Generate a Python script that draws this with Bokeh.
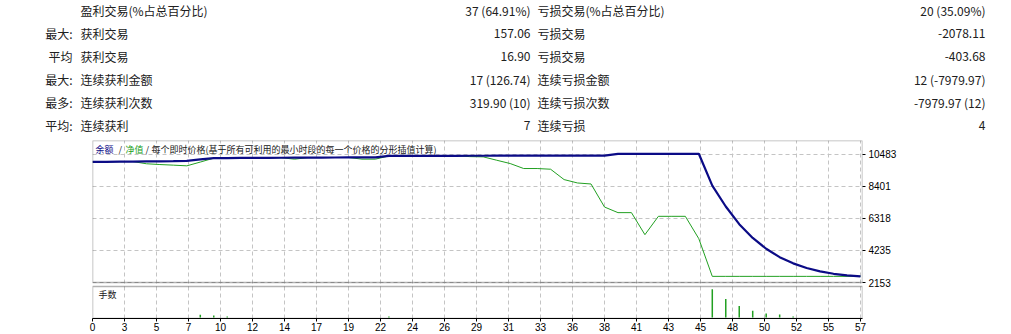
from bokeh.plotting import figure
from bokeh.models import Range1d, FixedTicker, BoxAnnotation, Label
from bokeh.embed import file_html
from bokeh.resources import INLINE
from bokeh.core.properties import value

# ---------------- data ----------------
row_prefix = ["", "最大:", "平均", "最大:", "最多:", "平均:"]
win_labels = ["盈利交易(%占总百分比)", "获利交易", "获利交易", "连续获利金额", "连续获利次数", "连续获利"]
win_values = ["37 (64.91%)", "157.06", "16.90", "17 (126.74)", "319.90 (10)", "7"]
loss_labels = ["亏损交易(%占总百分比)", "亏损交易", "亏损交易", "连续亏损金额", "连续亏损次数", "连续亏损"]
loss_values = ["20 (35.09%)", "-2078.11", "-403.68", "12 (-7979.97)", "-7979.97 (12)", "4"]

legend_parts = ["余额", "/", "净值", "/", "每个即时价格(基于所有可利用的最小时段的每一个价格的分形插值计算)"]
lots_title = "手数"

x_tick_labels = ["0", "3", "5", "7", "10", "12", "14", "17", "19", "22", "24", "26", "29",
                 "31", "33", "36", "38", "41", "43", "45", "48", "50", "52", "55", "57"]
y_ticks = [2153, 4235.5, 6318, 8400.5, 10483]
y_tick_labels = ["2153", "4235", "6318", "8401", "10483"]

trade = list(range(58))
balance = [10000, 10008, 10016, 10025, 10033, 10041, 10050, 10062, 10160, 10245,
           10252, 10258, 10263, 10268, 10272, 10276, 10280, 10284, 10287, 10290,
           10292, 10295, 10388, 10391, 10393, 10395, 10397, 10399, 10401, 10403,
           10404, 10405, 10406, 10407, 10408, 10409, 10410, 10411, 10412, 10522,
           10524, 10526, 10528, 10529, 10530, 10532, 8454, 7100, 5950, 5050,
           4350, 3800, 3400, 3100, 2880, 2720, 2620, 2552]
equity = [10000, 10008, 10016, 10025, 9880, 9830, 9790, 9745, 9990, 10245,
          10252, 10258, 10263, 10268, 10272, 10180, 10280, 10284, 10287, 10290,
          10180, 10180, 10388, 10391, 10393, 10395, 10397, 10399, 10345, 10330,
          10110, 9895, 9570, 9570, 9525, 8850, 8630, 8565, 7065, 6700,
          6700, 5265, 6460, 6460, 6460, 5003, 2552, 2552, 2552, 2552,
          2552, 2552, 2552, 2552, 2552, 2552, 2552, 2552]
lots = [0, 0, 0, 0, 0, 0, 0, 0, 0.06, 0.045,
        0.02, 0, 0, 0, 0, 0, 0, 0, 0, 0,
        0, 0, 0.02, 0, 0, 0, 0, 0, 0, 0,
        0, 0, 0, 0, 0, 0, 0, 0, 0, 0,
        0, 0, 0, 0, 0, 0, 0.64, 0.42, 0.26, 0.15,
        0.09, 0.07, 0.02, 0, 0, 0, 0, 0]

# ---------------- styling / layout ----------------
W, H = 1011, 334
TABLE_H = 138
CHART_H = H - TABLE_H
FRAME_LEFT, FRAME_RIGHT = 92, 862
FRAME_TOP, FRAME_BOTTOM = 140, 318      # page pixel rows
MAIN_BOTTOM, SUB_TOP = 282, 286
Y_TOP_VALUE = 11394
LOT_AT_SUB_TOP = 0.70

TXT = "#202020"
CJK = "Noto Sans CJK SC"
BLUE = "#0b0b86"
GREEN = "#22a022"
GRID = "#c4c4c4"

# ---------------- statistics table ----------------
t = figure(width=W, height=TABLE_H, x_range=Range1d(0, W), y_range=Range1d(TABLE_H, 0),
           toolbar_location=None, output_backend="svg", min_border=0)
t.axis.visible = False
t.grid.visible = False
t.outline_line_color = None
row_y = [10 + 23 * i for i in range(len(row_prefix))]
common = dict(text_font=value(CJK), text_font_size="12px", text_color=TXT, text_baseline="middle")
t.text(x=[72] * len(row_y), y=row_y, text=row_prefix, text_align="right", **common)
t.text(x=[80] * len(row_y), y=row_y, text=win_labels, text_align="left", **common)
t.text(x=[530] * len(row_y), y=row_y, text=win_values, text_align="right", **common)
t.text(x=[537] * len(row_y), y=row_y, text=loss_labels, text_align="left", **common)
t.text(x=[985] * len(row_y), y=row_y, text=loss_values, text_align="right", **common)

# ---------------- chart ----------------
val_per_px = (Y_TOP_VALUE - y_ticks[0]) / (MAIN_BOTTOM - FRAME_TOP)
y_start = y_ticks[0] - (FRAME_BOTTOM - MAIN_BOTTOM) * val_per_px
px_per_trade = (FRAME_RIGHT - FRAME_LEFT - 2) / trade[-1]
x_end = trade[-1] + 2 / px_per_trade

lot_zero_px = FRAME_BOTTOM - 1
px_per_lot = (lot_zero_px - SUB_TOP) / LOT_AT_SUB_TOP
lots_start = -1 / px_per_lot
lots_end = (lot_zero_px - FRAME_TOP) / px_per_lot

p = figure(width=W, height=CHART_H, x_range=Range1d(0, x_end), y_range=Range1d(y_start, Y_TOP_VALUE),
           toolbar_location=None, output_backend="svg", y_axis_location="right",
           min_border_left=FRAME_LEFT, min_border_right=W - FRAME_RIGHT,
           min_border_top=FRAME_TOP - TABLE_H, min_border_bottom=H - FRAME_BOTTOM)
p.outline_line_color = None
p.extra_y_ranges = {"lots": Range1d(lots_start, lots_end)}

n = len(x_tick_labels) - 1
x_ticks = [i * trade[-1] / n for i in range(n + 1)]
xt = FixedTicker(ticks=x_ticks)
yt = FixedTicker(ticks=y_ticks)
p.xaxis[0].ticker = xt
p.yaxis[0].ticker = yt
p.xgrid[0].ticker = xt
p.ygrid[0].ticker = yt
p.xaxis[0].major_label_overrides = {k: v for k, v in zip(x_ticks, x_tick_labels)}
p.yaxis[0].major_label_overrides = {k: v for k, v in zip(y_ticks, y_tick_labels)}

for ax in (p.xaxis[0], p.yaxis[0]):
    ax.major_label_text_font = "Liberation Sans"
    ax.major_label_text_font_size = "10px"
    ax.major_label_text_color = "#000000"
    ax.major_tick_in = 0
    ax.major_tick_out = 3
    ax.minor_tick_line_color = None
    ax.major_tick_line_color = "#000000"
p.xaxis[0].axis_line_color = "#000000"
p.xaxis[0].major_label_standoff = 1
p.yaxis[0].axis_line_color = None
p.yaxis[0].major_label_standoff = 3
p.yaxis[0].major_label_text_align = "left"

for g in (p.xgrid[0], p.ygrid[0]):
    g.grid_line_color = GRID
    g.grid_line_dash = "4 3"
    g.grid_line_width = 1

p.line(trade, equity, line_color=GREEN, line_width=1)
p.line(trade, balance, line_color=BLUE, line_width=2.2)
p.segment(x0=trade, y0=[0] * len(trade), x1=trade, y1=lots, y_range_name="lots",
          line_color=GREEN, line_width=1.5)

p.add_layout(BoxAnnotation(left=0, right=x_end, bottom=y_ticks[0], top=Y_TOP_VALUE,
                           fill_color=None, fill_alpha=0, line_color="black", line_width=1.5))
p.add_layout(BoxAnnotation(left=0, right=x_end, bottom=lots_start, top=LOT_AT_SUB_TOP,
                           y_range_name="lots",
                           fill_color=None, fill_alpha=0, line_color="black", line_width=1.5))

legend_y = Y_TOP_VALUE - (149 - FRAME_TOP) * val_per_px
legend_colors = [BLUE, TXT, GREEN, TXT, TXT]
legend_offsets = [3, 26, 33, 53, 59]
for txt, col, off in zip(legend_parts, legend_colors, legend_offsets):
    p.add_layout(Label(x=0, y=legend_y, x_offset=off, text=txt, text_color=col,
                       text_font=CJK, text_font_size="9px", text_baseline="middle"))

p.add_layout(Label(x=0, y=(lot_zero_px - 294) / px_per_lot, x_offset=6, y_range_name="lots",
                   text=lots_title, text_color=TXT, text_font=CJK, text_font_size="9px",
                   text_baseline="middle"))

open("out.html", "w").write(file_html([t, p], INLINE))
